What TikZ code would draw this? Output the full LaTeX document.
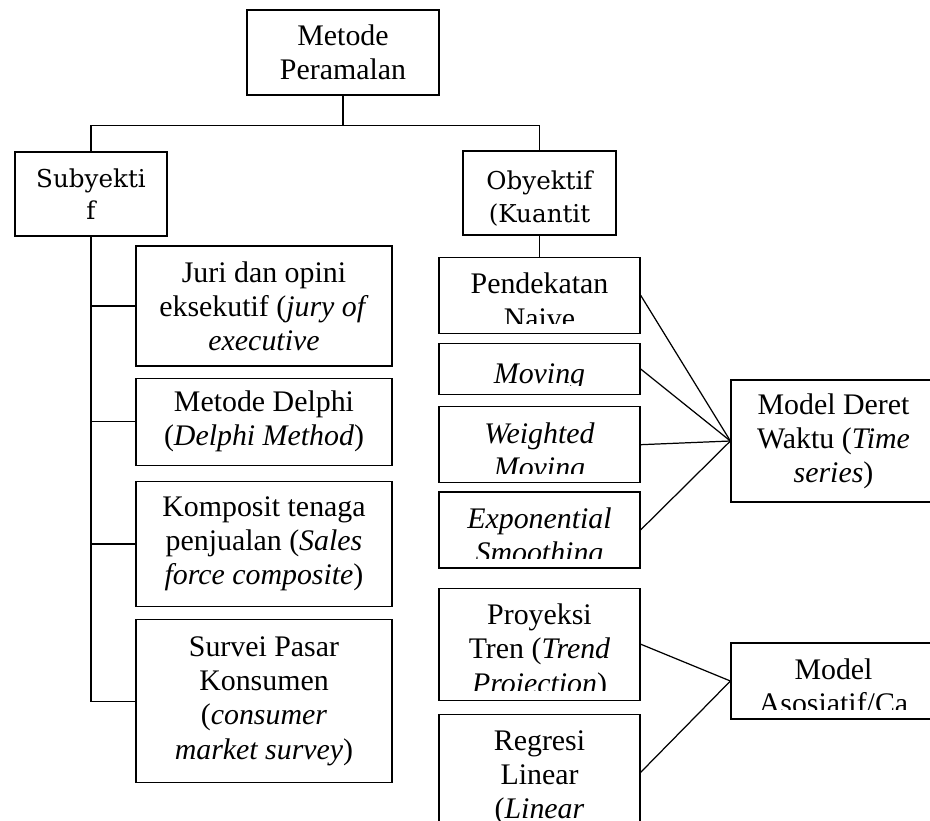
\documentclass[tikz,border=0pt]{standalone}
\usepackage{fontspec}
\setmainfont{Liberation Serif}
\newfontfamily\headfamily{DejaVu Serif}
\usetikzlibrary{positioning}

\begin{document}
\begin{tikzpicture}[node distance=0.22cm, font=\fontsize{17}{19.4}\selectfont, line width=0.7pt]
  \tikzstyle{boxnode}=[draw, align=center, inner sep=0pt, minimum width=4.02cm]
  \tikzstyle{wordnode}=[align=center, anchor=north, inner sep=0pt, execute at begin node=\strut]
  \tikzstyle{headfont}=[font=\headfamily\fontsize{14}{18.6}\selectfont]

  \useasboundingbox (0,0) rectangle (18.6,-16.4);
  \clip (0,0) rectangle (18.6,-16.4);

  \node[boxnode, minimum width=3.84cm, minimum height=1.70cm] (mp) at (6.86,-1.05) {Metode\\Peramalan};
  \node[boxnode, headfont, minimum width=3.04cm, minimum height=1.68cm] (sub) at (1.82,-3.88) {Subyekti\\f};
  \node[boxnode, minimum width=3.06cm, minimum height=1.68cm] (oby) at (10.79,-3.86) {};

  % subyektif
  \node[boxnode, minimum width=5.12cm, minimum height=2.40cm] (juri) at (5.28,-6.12) {Juri dan opini\\eksekutif (\textit{jury of}\\\textit{executive}};
  \node[boxnode, minimum width=5.12cm, minimum height=1.74cm, below=0.22cm of juri] (delphi) {Metode Delphi\\(\textit{Delphi Method})};
  \node[boxnode, minimum width=5.12cm, minimum height=2.50cm, below=0.30cm of delphi] (komposit) {Komposit tenaga\\penjualan (\textit{Sales}\\\textit{force composite})};
  \node[boxnode, minimum width=5.12cm, minimum height=3.26cm, below=0.24cm of komposit] (survei) {Survei Pasar\\Konsumen\\(\textit{consumer}\\\textit{market survey})};

  % obyektif
  \node[boxnode, minimum height=1.52cm, below=0.42cm of oby] (naive) {};
  \node[boxnode, minimum height=1.02cm, below=0.18cm of naive] (moving) {};
  \node[boxnode, minimum height=1.52cm, below=0.22cm of moving] (weighted) {};
  \node[boxnode, minimum height=1.52cm, below=0.16cm of weighted] (expo) {};
  \node[boxnode, minimum height=2.24cm, below=0.38cm of expo] (proy) {};
  \node[boxnode, minimum height=2.32cm, below=0.26cm of proy] (regresi) {};

  \node[boxnode, minimum width=4.1cm, minimum height=2.44cm] (deret) at (16.67,-8.82) {Model Deret\\Waktu (\textit{Time}\\\textit{series})};
  \node[boxnode, minimum width=4.1cm, minimum height=1.52cm] (kausal) at (16.67,-13.62) {};

  % text cut off by the box
  \begin{scope}
    \clip ([yshift=0.2cm]oby.south west) rectangle (oby.north east);
    \node[wordnode, headfont] at ([yshift=-0.40cm]oby.north) {Obyektif\\(Kuantit};
  \end{scope}
  \foreach \nm/\lbl in {naive/{Pendekatan\\Naive}, moving/{\textit{Moving}},
      weighted/{\textit{Weighted}\\\textit{Moving}}, expo/{\textit{Exponential}\\\textit{Smoothing}},
      proy/{Proyeksi\\Tren (\textit{Trend}\\\textit{Projection})}, regresi/{Regresi\\Linear\\(\textit{Linear}},
      kausal/{Model\\Asosiatif/Ca}}
  {
    \begin{scope}
      \clip ([yshift=0.2cm]\nm.south west) rectangle (\nm.north east);
      \node[wordnode] at ([yshift=-0.32cm]\nm.north) {\lbl};
    \end{scope}
  }

  \draw (mp.south) -- ++(0,-0.6) coordinate (bus) -| (sub.north);
  \draw (bus) -| (oby.north);
  \foreach \nm in {juri,delphi,komposit,survei}
    \draw (sub.south) |- (\nm.west);
  \draw (oby.south) -- (naive.north);
  \foreach \nm in {naive,moving,weighted,expo}
    \draw (\nm.east) -- (deret.west);
  \foreach \nm in {proy,regresi}
    \draw (\nm.east) -- (kausal.west);
\end{tikzpicture}
\end{document}
